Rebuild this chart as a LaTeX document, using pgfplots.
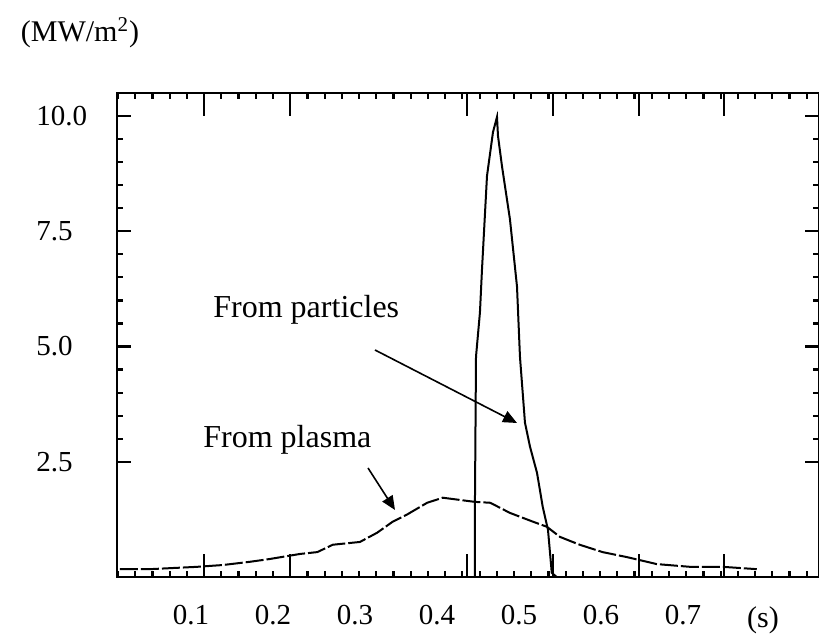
\documentclass[border=0pt]{standalone}
\usepackage{fontspec}
\setmainfont{Liberation Serif}
\usepackage{pgfplots}
\pgfplotsset{compat=1.18}
\usetikzlibrary{arrows.meta}
\begin{document}
\begin{tikzpicture}
\useasboundingbox (-58.5pt,-29pt) rectangle (351pt,288.5pt);
\begin{axis}[
  at={(0pt,0pt)}, anchor=south west,
  width=351pt, height=242pt, scale only axis,
  xmin=0.00976, xmax=0.8659, ymin=0, ymax=10.5,
  axis line style={line width=1.2pt},
  every tick/.style={black, line width=1.1pt},
  xtick={0.1159,0.2207,0.4366,0.5415,0.6463,0.75},
  xticklabels={},
  minor xtick={0.0110,0.0320,...,0.86},
  x tick style={/pgfplots/major tick length=11.5pt, /pgfplots/minor tick length=3pt},
  extra x ticks={0.1,0.2,0.3,0.4,0.5,0.6,0.7},
  extra x tick labels={0.1,0.2,0.3,0.4,0.5,0.6,0.7},
  extra x tick style={major tick length=0pt, tick style={draw=none}},
  xticklabel style={font=\fontsize{14.5}{16}\selectfont, inner sep=0pt, yshift=-14pt},
  ytick={2.5,5,7.5,10},
  yticklabels={2.5,5.0,7.5,10.0},
  minor y tick num=4,
  y tick style={/pgfplots/major tick length=7pt, /pgfplots/minor tick length=3pt},
  yticklabel style={font=\fontsize{14.5}{16}\selectfont, anchor=west, inner sep=0pt, xshift=-40.5pt},
]
% From particles
\addplot[black, line width=1pt] coordinates {
(0.4463,0) (0.4463,1.6) (0.4476,4.78) (0.4524,5.74) (0.4549,6.67) (0.461,8.70)
(0.4683,9.65) (0.4732,9.98) (0.4744,9.57) (0.4793,8.91) (0.489,7.76) (0.4976,6.30)
(0.5012,4.78) (0.5073,3.35) (0.5134,2.83) (0.522,2.26) (0.529,1.52) (0.5354,1.02)
(0.540,0.09) (0.546,0)
};
% From plasma
\addplot[black, line width=1pt, dash pattern=on 9pt off 1.5pt] coordinates {
(0.0134,0.17) (0.050,0.17) (0.107,0.22) (0.139,0.26) (0.172,0.33) (0.196,0.39)
(0.233,0.50) (0.254,0.54) (0.273,0.70) (0.306,0.76) (0.327,0.96) (0.346,1.20)
(0.363,1.35) (0.388,1.61) (0.407,1.72) (0.446,1.63) (0.465,1.61) (0.489,1.39)
(0.517,1.20) (0.534,1.09) (0.550,0.87) (0.574,0.70) (0.602,0.54) (0.632,0.43)
(0.668,0.28) (0.709,0.22) (0.749,0.22) (0.790,0.17)
};
\end{axis}
\node[font=\fontsize{16}{18}\selectfont, anchor=base west, inner sep=0pt] at (48pt,129.5pt) {From particles};
\node[font=\fontsize{16}{18}\selectfont, anchor=base west, inner sep=0pt] at (43pt,64.5pt) {From plasma};
\draw[line width=0.8pt, -{Triangle[length=7pt,width=6pt]}] (129pt,113.5pt) -- (200pt,77pt);
\draw[line width=0.8pt, -{Triangle[length=7pt,width=6pt]}] (125.5pt,54.5pt) -- (139pt,33.5pt);
\node[font=\fontsize{15}{17}\selectfont, inner sep=0pt] at (-18.5pt,272pt) {(MW/m\textsuperscript{2})};
\node[font=\fontsize{15}{17}\selectfont, inner sep=0pt] at (323pt,-21.5pt) {(s)};
\end{tikzpicture}
\end{document}
